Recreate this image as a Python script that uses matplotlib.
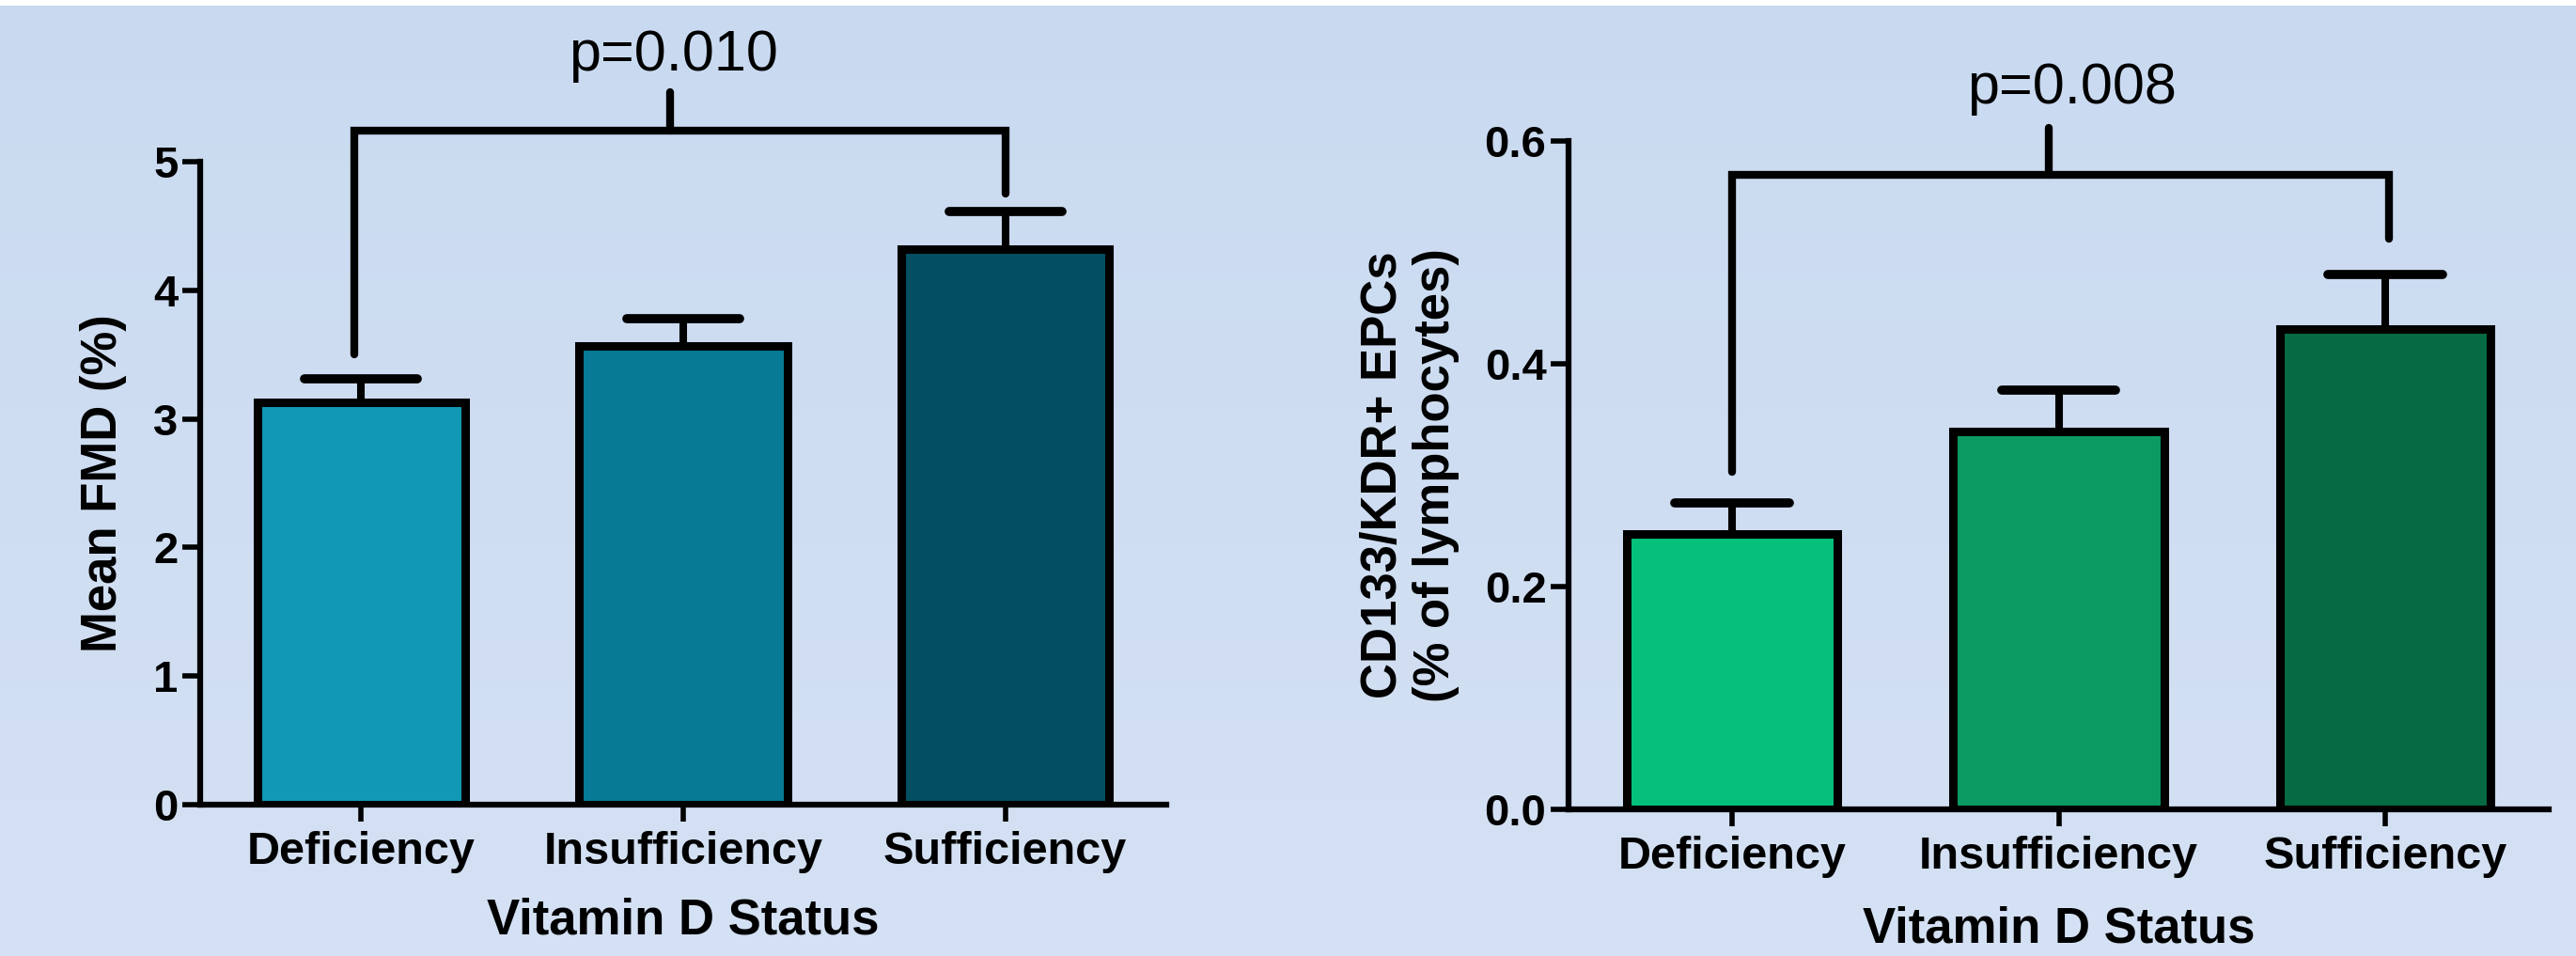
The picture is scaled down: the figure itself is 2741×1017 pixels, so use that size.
import numpy as np
import matplotlib
matplotlib.use("Agg")
import matplotlib.pyplot as plt
from matplotlib.colors import LinearSegmentedColormap
from matplotlib.patches import Rectangle

categories = ["Deficiency", "Insufficiency", "Sufficiency"]
xlabel = "Vitamin D Status"

# left panel: flow-mediated dilation
fmd_mean = [3.13, 3.57, 4.32]
fmd_err = [0.18, 0.21, 0.29]
fmd_colors = ["#1198b4", "#077b96", "#034f61"]
fmd_ticks = [0, 1, 2, 3, 4, 5]
fmd_p = "p=0.010"
# bracket: top, left leg end, right leg end, centre tick top, text baseline
fmd_bracket = [5.24, 3.50, 4.75, 5.54, 5.71]
# bracket x: left leg, right leg, centre tick, text centre
fmd_bracket_x = [-0.02, 2.0, 0.96, 0.97]

# right panel: endothelial progenitor cells
epc_mean = [0.247, 0.339, 0.431]
epc_err = [0.028, 0.037, 0.049]
epc_colors = ["#05c07a", "#0b9b62", "#066a42"]
epc_ticks = [0.0, 0.2, 0.4, 0.6]
epc_p = "p=0.008"
epc_bracket = [0.570, 0.303, 0.512, 0.612, 0.634]
epc_bracket_x = [0.0, 2.01, 0.97, 1.04]

plt.rcParams["font.family"] = ["Liberation Sans", "DejaVu Sans"]

W, H = 2741, 1017
fig = plt.figure(figsize=(W / 100, H / 100), dpi=100)

# light blue background with a faint vertical gradient
bg = fig.add_axes([0, 0, 1, 1], zorder=-1)
cmap = LinearSegmentedColormap.from_list("bg", ["#d5e1f4", "#c9daf0"])
bg.imshow(np.linspace(0, 1, 256).reshape(-1, 1), aspect="auto", cmap=cmap,
          origin="lower", extent=[0, 1, 0, 1])
bg.axis("off")
fig.add_artist(Rectangle((0, 1 - 6 / H), 1, 6 / H, transform=fig.transFigure,
                         color="white", lw=0))


def draw_panel(ax, means, errs, colors, ticks, fmt, ylabel, ylabel_x,
               bracket, bracket_x, ptext):
    x = np.arange(len(categories))
    ax.set_facecolor("none")
    ax.bar(x, means, width=0.645, color=colors, edgecolor="black",
           linewidth=6.5, zorder=2)
    tops = np.array(means) + np.array(errs)
    ax.vlines(x, means, tops, color="black", lw=5.8, zorder=1)
    ax.hlines(tops, x - 0.175, x + 0.175, color="black", lw=7,
              capstyle="round", zorder=1)

    top, leg_l, leg_r, tick_top, text_y = bracket
    xl, xr, xm, xt = bracket_x
    ax.plot([xl, xl, xr, xr], [leg_l, top, top, leg_r],
            color="black", lw=6, clip_on=False, solid_capstyle="round",
            solid_joinstyle="miter")
    ax.plot([xm, xm], [top, tick_top], color="black", lw=6,
            clip_on=False, solid_capstyle="round")
    ax.text(xt, text_y, ptext, ha="center", va="baseline", fontsize=44)

    ax.set_xlim(-0.5, 2.5)
    ax.set_ylim(ticks[0], ticks[-1])
    ax.set_xticks(x)
    ax.set_xticklabels(categories, fontsize=35, fontweight="bold")
    ax.set_yticks(ticks)
    ax.set_yticklabels([fmt.format(t) for t in ticks], fontsize=34,
                       fontweight="bold")
    for s in ["top", "right"]:
        ax.spines[s].set_visible(False)
    for s in ["left", "bottom"]:
        ax.spines[s].set_linewidth(4.5)
    ax.tick_params(axis="x", length=13, width=4, pad=7)
    ax.tick_params(axis="y", length=14, width=4, pad=3)

    ax.set_xlabel(xlabel, fontsize=38, fontweight="bold", va="center")
    ax.xaxis.set_label_coords(0.5, -0.18)
    ax.set_ylabel(ylabel, fontsize=38, fontweight="bold", va="center",
                  linespacing=1.15)
    ax.yaxis.set_label_coords(ylabel_x, 0.5)


ax1 = fig.add_axes([213 / W, 1 - 856 / H, 1028 / W, 684 / H])
draw_panel(ax1, fmd_mean, fmd_err, fmd_colors, fmd_ticks, "{:.0f}",
           "Mean FMD (%)", -0.100, fmd_bracket, fmd_bracket_x, fmd_p)

ax2 = fig.add_axes([1669 / W, 1 - 861 / H, 1043 / W, 711 / H])
draw_panel(ax2, epc_mean, epc_err, epc_colors, epc_ticks, "{:.1f}",
           "CD133/KDR+ EPCs\n(% of lymphocytes)", -0.162, epc_bracket,
           epc_bracket_x, epc_p)

fig.savefig("out.png", dpi=100)
plt.close(fig)
